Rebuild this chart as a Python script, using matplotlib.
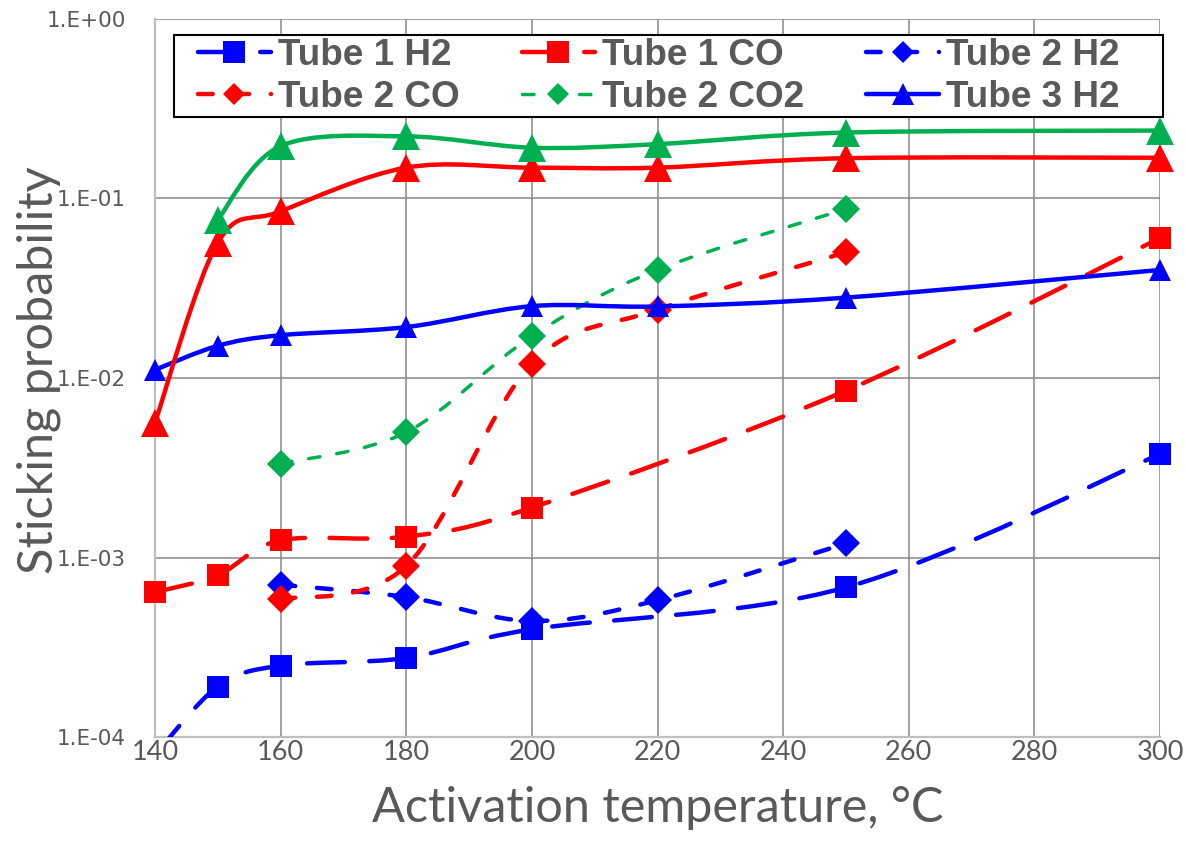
import numpy as np
import matplotlib
matplotlib.use('Agg')
import matplotlib.pyplot as plt
from matplotlib.path import Path
from matplotlib.patches import PathPatch, Rectangle
from matplotlib.lines import Line2D
from matplotlib.ticker import FixedLocator, NullLocator
from matplotlib.transforms import Bbox, TransformedBbox

# activation temperatures (deg C) for each group of runs
t_tube1 = [140, 150, 160, 180, 200, 250, 300]
t_tube2 = [160, 180, 200, 220, 250]
t_tube3 = [140, 150, 160, 180, 200, 220, 250, 300]
t_tube3_co2 = [150, 160, 180, 200, 220, 250, 300]

# sticking probabilities
tube1_h2 = [8.0e-5, 1.92e-4, 2.51e-4, 2.77e-4, 4.0e-4, 6.84e-4, 3.77e-3]
tube1_co = [6.43e-4, 8.0e-4, 1.25e-3, 1.31e-3, 1.9e-3, 8.5e-3, 6.0e-2]
tube2_h2 = [7.07e-4, 6.04e-4, 4.45e-4, 5.8e-4, 1.2e-3]
tube2_co = [5.86e-4, 9.0e-4, 1.2e-2, 2.4e-2, 5.0e-2]
tube2_co2 = [3.34e-3, 4.99e-3, 1.71e-2, 4.0e-2, 8.7e-2]
tube3_h2 = [1.11e-2, 1.51e-2, 1.73e-2, 1.92e-2, 2.51e-2, 2.5e-2, 2.8e-2, 3.99e-2]
tube3_co = [5.65e-3, 5.66e-2, 8.45e-2, 0.148, 0.148, 0.148, 0.167, 0.168]
tube3_co2 = [7.6e-2, 0.195, 0.221, 0.191, 0.2, 0.232, 0.238]

x_ticks = [140, 160, 180, 200, 220, 240, 260, 280, 300]
y_ticks = [1e-4, 1e-3, 1e-2, 1e-1, 1e0]
y_tick_labels = ['1.E-04', '1.E-03', '1.E-02', '1.E-01', '1.E+00']

BLUE, RED, GREEN = '#0000FF', '#FF0000', '#00B050'
GREY = '#595959'
LONG = (8.5, 5.5)
MED = (3.3, 4.9)

# name, x, y, colour, marker, size, dash, linewidth, legend marker size
series = [
    ('Tube 1 H2', t_tube1, tube1_h2, BLUE, 's', 16.5, LONG, 3.2, 15.5),
    ('Tube 1 CO', t_tube1, tube1_co, RED, 's', 16.5, LONG, 3.2, 15.5),
    ('Tube 2 H2', t_tube2, tube2_h2, BLUE, 'D', 14, MED, 3.2, 11.2),
    ('Tube 2 CO', t_tube2, tube2_co, RED, 'D', 14, MED, 3.2, 11.2),
    ('Tube 2 CO2', t_tube2, tube2_co2, GREEN, 'D', 14, MED, 2.5, 11.2),
    ('Tube 3 H2', t_tube3, tube3_h2, BLUE, '^', 16.5, None, 3.2, 16),
    ('Tube 3 CO', t_tube3, tube3_co, RED, '^', 20, None, 3.2, 16),
    ('Tube 3 CO2', t_tube3_co2, tube3_co2, GREEN, '^', 20, None, 3.2, 16),
]
legend_order = ['Tube 1 H2', 'Tube 2 CO', 'Tube 1 CO', 'Tube 2 CO2', 'Tube 2 H2', 'Tube 3 H2']


def smooth_path(x, y):
    # Excel-like smoothed line: cubic Bezier through the points, built in log space
    p = np.column_stack([np.asarray(x, float), np.log10(y)])
    n = len(p)
    verts = [p[0]]
    codes = [Path.MOVETO]
    for i in range(n - 1):
        a = p[max(i - 1, 0)]
        d = p[min(i + 2, n - 1)]
        verts += [p[i] + (p[i + 1] - a) / 6, p[i + 1] - (d - p[i]) / 6, p[i + 1]]
        codes += [Path.CURVE4] * 3
    v = np.array(verts)
    v[:, 1] = 10 ** v[:, 1]
    return Path(v, codes)


fig = plt.figure(figsize=(11.86, 8.41), dpi=100)
ax = fig.add_axes([0.1307, 0.1231, 0.8474, 0.8549])
ax.set_yscale('log')
ax.set_xlim(140, 300)
ax.set_ylim(1e-4, 1)

marker_clip = TransformedBbox(Bbox([[-0.03, 0.0], [1.03, 1.05]]), ax.transAxes)
handles = {}
for k, (name, x, y, col, mk, ms, dash, lw, lms) in enumerate(series):
    ls = '-' if dash is None else (0, dash)
    ax.add_patch(PathPatch(smooth_path(x, y), fill=False, edgecolor=col, lw=lw,
                           linestyle=ls, capstyle='round', joinstyle='round',
                           zorder=3 + 2 * k))
    mline, = ax.plot(x, y, ls='none', marker=mk, ms=ms, color=col, mew=0,
                     zorder=4 + 2 * k)
    mline.set_clip_box(marker_clip)
    handles[name] = Line2D([], [], color=col, lw=lw, ls=ls, marker=mk, ms=lms,
                           mew=0, dash_capstyle='round', solid_capstyle='round')

ax.xaxis.set_major_locator(FixedLocator(x_ticks))
ax.yaxis.set_major_locator(FixedLocator(y_ticks))
ax.yaxis.set_minor_locator(NullLocator())
ax.set_yticklabels(y_tick_labels)
ax.set_axisbelow(True)
ax.grid(True, color='#878787', lw=1.1)
for s in ['top', 'right']:
    ax.spines[s].set_visible(False)
for s in ['left', 'bottom']:
    ax.spines[s].set_color('#BFBFBF')
    ax.spines[s].set_linewidth(1.6)

ax.tick_params(axis='both', length=0)
ax.tick_params(axis='y', pad=21, labelsize=15.5, labelcolor=GREY)
ax.tick_params(axis='x', pad=2, labelsize=19.5, labelcolor=GREY)
for t in ax.get_yticklabels():
    t.set_family('DejaVu Sans')
for t in ax.get_xticklabels():
    t.set_family('Lato')

ax.set_xlabel('Activation temperature, °C', family='Lato', fontsize=35, color=GREY)
ax.set_ylabel('Sticking probability', family='Lato', fontsize=35, color=GREY)
ax.xaxis.set_label_coords(0.5, -0.068)
ax.yaxis.set_label_coords(-0.0935, 0.511)

ax.add_patch(Rectangle((0.0189, 0.863), 0.984, 0.114, transform=ax.transAxes,
                       facecolor='white', edgecolor='black', lw=1.5,
                       zorder=40, clip_on=False))
leg = ax.legend([handles[n] for n in legend_order], legend_order, ncol=3,
                loc='upper left', bbox_to_anchor=(0.0428, 0.973), frameon=False,
                borderpad=0, borderaxespad=0, labelspacing=0.2,
                handlelength=1.97, handletextpad=0.19, columnspacing=1.69,
                prop={'family': 'Liberation Sans', 'weight': 'bold', 'size': 26.6})
for t in leg.get_texts():
    t.set_color(GREY)
leg.set_zorder(41)

fig.savefig('out.png', dpi=100)
